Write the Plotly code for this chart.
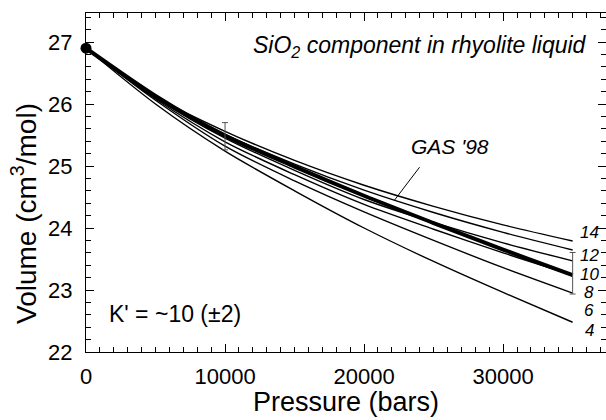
import plotly.graph_objects as go

# ---------------- data ----------------
pressure = [0, 5000, 10000, 15000, 20000, 25000, 30000, 35000]   # bars

vol_k14 = [26.90, 26.12, 25.56, 25.09, 24.69, 24.35, 24.05, 23.79]
vol_k12 = [26.90, 26.10, 25.51, 25.03, 24.61, 24.25, 23.93, 23.645]
vol_k10 = [26.90, 26.10, 25.45, 24.93, 24.46, 24.09, 23.76, 23.47]
vol_k8 = [26.90, 26.08, 25.39, 24.86, 24.38, 23.98, 23.60, 23.24]
vol_k6 = [26.90, 26.06, 25.32, 24.76, 24.26, 23.80, 23.36, 22.95]
vol_k4 = [26.90, 26.00, 25.24, 24.60, 24.00, 23.46, 22.96, 22.48]
vol_gas98 = [26.90, 26.13, 25.49, 24.99, 24.52, 24.08, 23.65, 23.24]

curve_labels = ["14", "12", "10", "8", "6", "4"]

err_pressure = [10000, 35000]
err_volume = [25.48, 23.27]
err_size = [0.22, 0.335]

v0_pressure = [0]
v0_volume = [26.9]

x_ticks = [0, 10000, 20000, 30000]
y_ticks = [22, 23, 24, 25, 26, 27]

# ---------------- figure ----------------
FONT = "Liberation Sans, Arial, Helvetica, sans-serif"
W, H = 606, 420
L, R, T, B = 86, 0, 13, 68
PW, PH = W - L - R, H - T - B
X_RANGE = [0, 37400]


def px(xpix):
    return (xpix - L) / PW


def py(ypix):
    return (H - B - ypix) / PH


fig = go.Figure()

for vals in [vol_k14, vol_k12, vol_k10, vol_k8, vol_k6, vol_k4]:
    fig.add_trace(go.Scatter(x=pressure, y=vals, mode="lines",
                             line=dict(color="black", width=1.4, shape="spline", smoothing=0.8),
                             showlegend=False, hoverinfo="skip"))

fig.add_trace(go.Scatter(x=pressure, y=vol_gas98, mode="lines",
                         line=dict(color="black", width=4, shape="spline", smoothing=0.8),
                         showlegend=False))

fig.add_trace(go.Scatter(x=err_pressure, y=err_volume, mode="markers",
                         marker=dict(size=1, color="rgba(0,0,0,0)"),
                         error_y=dict(type="data", array=err_size, color="#555555",
                                      thickness=1, width=3),
                         showlegend=False))

fig.add_trace(go.Scatter(x=v0_pressure, y=v0_volume, mode="markers",
                         marker=dict(size=11, color="black"), cliponaxis=False,
                         showlegend=False))

axis_common = dict(showgrid=False, zeroline=False, showline=True, linecolor="black",
                   linewidth=1.3, mirror="ticks", ticks="inside", tickcolor="black",
                   tickwidth=1, ticklen=8,
                   tickfont=dict(family=FONT, size=22, color="black"))

fig.update_layout(
    xaxis=dict(range=X_RANGE, tickmode="array",
               tickvals=x_ticks, ticktext=[str(v) for v in x_ticks],
               minor=dict(dtick=1000, ticklen=5, ticks="inside", tickcolor="black", tickwidth=1),
               ticklabelstandoff=4, **axis_common),
    yaxis=dict(range=[22, 22 + PH / 62.0], tickmode="array",
               tickvals=y_ticks, ticktext=[str(v) for v in y_ticks],
               minor=dict(dtick=0.2, ticklen=5, ticks="inside", tickcolor="black", tickwidth=1),
               ticklabelstandoff=8, **axis_common),
)

annotations = [
    dict(text="Pressure (bars)", x=px(346), y=py(402), xref="paper", yref="paper",
         showarrow=False, xanchor="center", yanchor="middle",
         font=dict(family=FONT, size=27, color="black")),
    dict(text="Volume (cm<sup>3</sup>/mol)", x=px(24), y=py(214), xref="paper", yref="paper",
         showarrow=False, xanchor="center", yanchor="middle", textangle=-90,
         font=dict(family=FONT, size=28, color="black")),
    dict(text="<i>SiO<sub>2</sub> component in rhyolite liquid</i>", x=px(589), y=py(47),
         xref="paper", yref="paper", showarrow=False, xanchor="right", yanchor="middle",
         font=dict(family=FONT, size=23, color="black")),
    dict(text="K' = ~10 (±2)", x=px(107), y=py(314), xref="paper", yref="paper",
         showarrow=False, xanchor="left", yanchor="middle",
         font=dict(family=FONT, size=23, color="black")),
    dict(text="<i>GAS '98</i>", x=px(409), y=py(146), xref="paper", yref="paper",
         showarrow=False, xanchor="left", yanchor="middle",
         font=dict(family=FONT, size=21, color="black")),
]

label_y_pix = [232, 255, 274, 292, 310, 330]
for lab, yp in zip(curve_labels, label_y_pix):
    annotations.append(dict(text="<i>" + lab + "</i>", x=px(589), y=py(yp),
                            xref="paper", yref="paper", showarrow=False,
                            xanchor="center", yanchor="middle",
                            font=dict(family=FONT, size=17, color="black")))

fig.update_layout(
    width=W, height=H,
    margin=dict(l=L, r=R, t=T, b=B, pad=0),
    paper_bgcolor="white", plot_bgcolor="white",
    showlegend=False,
    annotations=annotations,
    shapes=[dict(type="line", xref="x", yref="y", x0=22190, y0=24.45, x1=23990, y1=24.98,
                 line=dict(color="black", width=1))],
)

fig.write_html("out.html")
